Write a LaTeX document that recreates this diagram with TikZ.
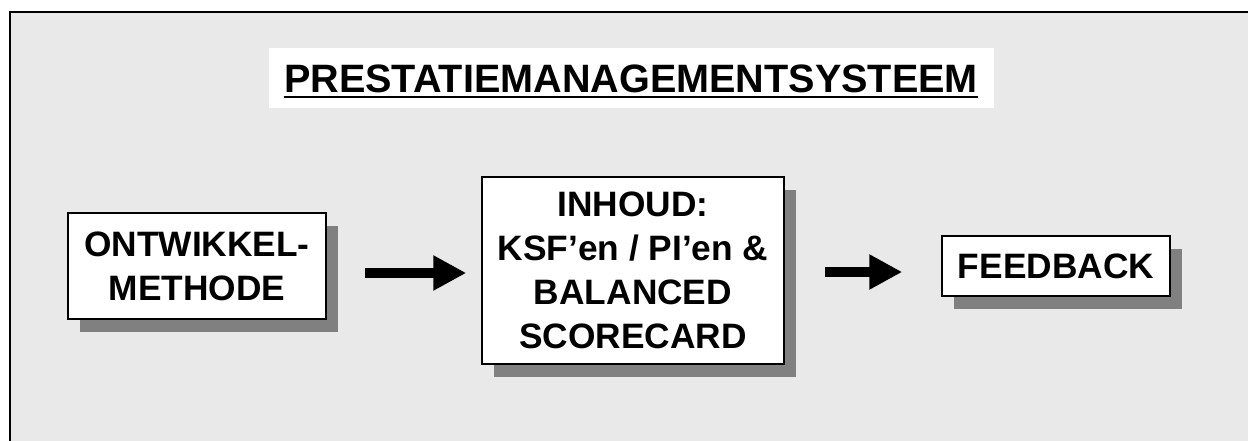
\documentclass[tikz,border=0pt]{standalone}
\usepackage{fontspec}
\setmainfont{Liberation Sans}
\usetikzlibrary{arrows.meta,shadows}
\definecolor{bggray}{HTML}{E9E9E9}
\definecolor{shadowgray}{HTML}{808080}
\tikzset{
  box/.style={draw=black, line width=1.5pt, fill=white, inner sep=0pt, align=center,
    font=\bfseries\fontsize{35.3}{44}\selectfont,
    drop shadow={shadow xshift=12pt, shadow yshift=-13pt, fill=shadowgray, opacity=1}},
  arr/.style={line width=10pt, -{Triangle[length=33pt,width=33pt]}}
}
\begin{document}
\begin{tikzpicture}[x=1pt,y=1pt]
\useasboundingbox (0,0) rectangle (1248,-441);
\begin{scope}
\clip (0,0) rectangle (1248,-441);
\draw[line width=1.5pt, fill=bggray] (10,-12) rectangle (1260,-460);
\end{scope}
% title
\node[fill=white, minimum width=725pt, minimum height=60pt, inner sep=0pt] (tb) at (631.5,-78) {};
\node[inner sep=0pt, anchor=base, font=\bfseries\fontsize{39.6}{44}\selectfont] (t) at (631,-93) {PRESTATIEMANAGEMENTSYSTEEM};
\draw[line width=2pt] ([yshift=-4pt]t.base west) -- ([yshift=-4pt]t.base east);
% boxes
\node[box, minimum width=258pt, minimum height=106pt] (b1) at (197,-266) {ONTWIKKEL-\\METHODE};
\node[box, minimum width=302pt, minimum height=187pt] (b2) at (633,-270.5) {INHOUD:\\KSF’en / PI’en \&\\BALANCED\\SCORECARD};
\node[box, minimum width=228pt, minimum height=60pt] (b3) at (1056,-266) {FEEDBACK};
% arrows
\draw[arr] ([shift={(38pt,-7pt)}]b1.east) -- ([shift={(-15pt,-2.5pt)}]b2.west);
\draw[arr] ([shift={(40pt,-1.5pt)}]b2.east) -- ([shift={(-39pt,-6pt)}]b3.west);
\end{tikzpicture}
\end{document}
